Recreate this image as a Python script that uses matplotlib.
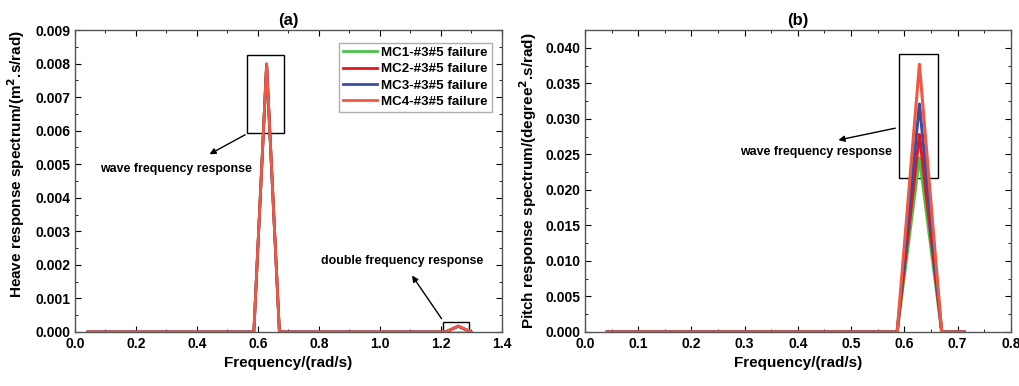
import numpy as np
import matplotlib.pyplot as plt
from matplotlib.ticker import MultipleLocator

plt.rcParams['font.family'] = ['Liberation Sans', 'DejaVu Sans']
plt.rcParams['font.weight'] = 'bold'

# frequency grid (rad/s), step 2*pi/150
freq_a = [0.0419, 0.0838, 0.1257, 0.1676, 0.2094, 0.2513, 0.2932, 0.3351, 0.3770, 0.4189,
          0.4608, 0.5027, 0.5445, 0.5864, 0.6283, 0.6702, 0.7121, 0.7540, 0.7959, 0.8378,
          0.8796, 0.9215, 0.9634, 1.0053, 1.0472, 1.0891, 1.1310, 1.1729, 1.2147, 1.2566, 1.2985]
freq_b = freq_a[:17]

labels = ['MC1-#3#5 failure', 'MC2-#3#5 failure', 'MC3-#3#5 failure', 'MC4-#3#5 failure']
colors = ['#4cc04c', '#e3161c', '#3a4ba6', '#f0583f']

# heave spectrum peaks (wave freq, double freq)
heave_peak = [0.00795, 0.00798, 0.00797, 0.00800]
heave_dbl = [0.00017, 0.00017, 0.00017, 0.00018]
# pitch spectrum peaks
pitch_peak = [0.0245, 0.0278, 0.0321, 0.0377]

fig = plt.figure(figsize=(10.19, 3.86), dpi=100)
ax1 = fig.add_axes([0.0736, 0.140, 0.419, 0.782])
ax2 = fig.add_axes([0.574, 0.140, 0.418, 0.782])

for lab, c, p, d in zip(labels, colors, heave_peak, heave_dbl):
    y = [0.0] * len(freq_a)
    y[14] = p
    y[29] = d
    ax1.plot(freq_a, y, color=c, lw=2.0, label=lab)

for lab, c, p in zip(labels, colors, pitch_peak):
    y = [0.0] * len(freq_b)
    y[14] = p
    ax2.plot(freq_b, y, color=c, lw=2.2, label=lab)

for ax in (ax1, ax2):
    ax.tick_params(which='both', direction='in', top=True, right=True, labelsize=10)
    ax.tick_params(which='major', length=4)
    ax.tick_params(which='minor', length=2.5)
    for s in ax.spines.values():
        s.set_color('#555555')
        s.set_linewidth(1.0)
    for t in ax.get_xticklabels() + ax.get_yticklabels():
        t.set_fontweight('bold')
    ax.set_xlabel('Frequency/(rad/s)', fontsize=11, fontweight='bold')

ax1.set_xlim(0, 1.4)
ax1.set_ylim(0, 0.009)
ax1.xaxis.set_major_locator(MultipleLocator(0.2))
ax1.xaxis.set_minor_locator(MultipleLocator(0.1))
ax1.yaxis.set_major_locator(MultipleLocator(0.001))
ax1.yaxis.set_minor_locator(MultipleLocator(0.0005))
ax1.xaxis.set_major_formatter(lambda v, p: f'{v:.1f}')
ax1.yaxis.set_major_formatter(lambda v, p: f'{v:.3f}')
ax1.set_ylabel('Heave response spectrum/(m$^\\mathbf{2}$.s/rad)', fontsize=11, fontweight='bold')
ax1.yaxis.set_label_coords(-0.112, 0.555)
ax1.set_title('(a)', fontsize=12, fontweight='bold', pad=4)

ax2.set_xlim(0, 0.8)
ax2.set_ylim(0, 0.0425)
ax2.xaxis.set_major_locator(MultipleLocator(0.1))
ax2.xaxis.set_minor_locator(MultipleLocator(0.05))
ax2.yaxis.set_major_locator(MultipleLocator(0.005))
ax2.yaxis.set_minor_locator(MultipleLocator(0.0025))
ax2.xaxis.set_major_formatter(lambda v, p: f'{v:.1f}')
ax2.yaxis.set_major_formatter(lambda v, p: f'{v:.3f}')
ax2.set_ylabel('Pitch response spectrum/(degree$^\\mathbf{2}$.s/rad)', fontsize=11, fontweight='bold')
ax2.set_title('(b)', fontsize=12, fontweight='bold', pad=4)

leg = ax1.legend(loc='upper right', bbox_to_anchor=(0.976, 0.958), fontsize=9.6, frameon=True,
                 fancybox=False, handlelength=2.6, handletextpad=0.3, borderpad=0.3,
                 labelspacing=0.3, borderaxespad=0)
leg.get_frame().set_edgecolor('#999999')
for t in leg.get_texts():
    t.set_fontweight('bold')

# annotation boxes
ax1.add_patch(plt.Rectangle((0.563, 0.00594), 0.123, 0.00232, fill=False, ec='black', lw=1.0))
ax1.annotate('', xy=(0.433, 0.00526), xytext=(0.566, 0.00592),
             arrowprops=dict(arrowstyle='-|>', color='black', lw=1.0, mutation_scale=9))
ax1.text(0.331, 0.00487, 'wave frequency response', ha='center', va='center', fontsize=8.9, fontweight='bold')

ax1.add_patch(plt.Rectangle((1.207, 0.0), 0.085, 0.00031, fill=False, ec='black', lw=1.0))
ax1.annotate('', xy=(1.10, 0.00175), xytext=(1.207, 0.00033),
             arrowprops=dict(arrowstyle='-|>', color='black', lw=1.0, mutation_scale=9))
ax1.text(1.074, 0.00212, 'double frequency response', ha='center', va='center', fontsize=8.9, fontweight='bold')

ax2.add_patch(plt.Rectangle((0.589, 0.02165), 0.074, 0.01746, fill=False, ec='black', lw=1.0))
ax2.annotate('', xy=(0.471, 0.02694), xytext=(0.588, 0.02877),
             arrowprops=dict(arrowstyle='-|>', color='black', lw=1.0, mutation_scale=9))
ax2.text(0.4345, 0.02539, 'wave frequency response', ha='center', va='center', fontsize=8.9, fontweight='bold')

fig.savefig('out.png', dpi=100)
